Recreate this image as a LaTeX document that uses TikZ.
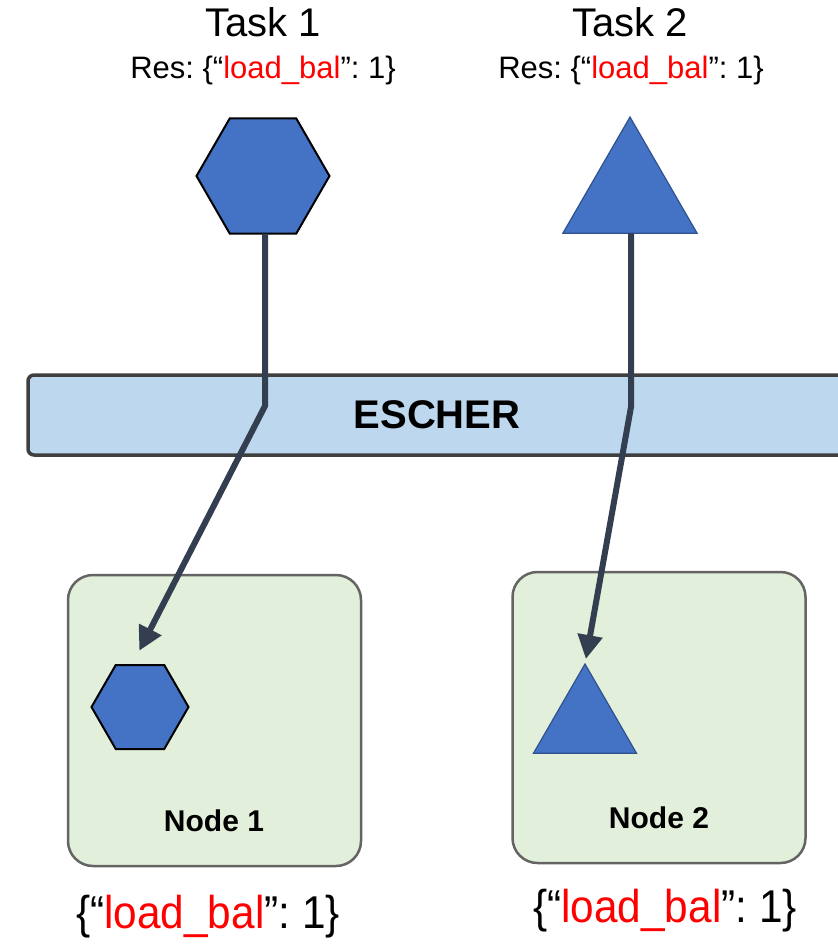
\documentclass[tikz,border=0pt]{standalone}
\usepackage{fontspec}
\setmainfont{Liberation Sans}
\usepackage{xcolor}
\usepackage{graphicx}
\usetikzlibrary{arrows.meta, positioning, shapes.geometric, calc}

\definecolor{shapeblue}{HTML}{4472C4}
\definecolor{triedge}{HTML}{2F528F}
\definecolor{flowslate}{HTML}{333F50}
\definecolor{barfill}{HTML}{BDD7EE}
\definecolor{barline}{HTML}{3F3F3F}
\definecolor{boxfill}{HTML}{E2EFDA}
\definecolor{boxline}{HTML}{646464}
\definecolor{resred}{HTML}{FF0000}

\frenchspacing
\newcommand{\resdict}{\{“\textcolor{resred}{load\_bal}”: 1\}}

\begin{document}
\begin{tikzpicture}[x=1pt, y=-1pt,
    hexa/.style={regular polygon, regular polygon sides=6, fill=shapeblue, draw=black, line width=2pt, inner sep=0pt, outer sep=0pt},
    tri/.style={regular polygon, regular polygon sides=3, fill=shapeblue, draw=triedge, line width=1.2pt, inner sep=0pt, outer sep=0pt},
    machine/.style={draw=boxline, fill=boxfill, line width=2.5pt, rounded corners=25pt, minimum width=293pt, minimum height=291pt},
    flow/.style={draw=flowslate, line width=6pt, -{Triangle[length=24pt, width=24pt]}}]
    \clip (0,0) rectangle (838,946);

    % Task titles and requests
    \node[font=\fontsize{40}{44}\selectfont] (titleone) at (263,22) {Task 1};
    \node[font=\fontsize{31}{36}\selectfont] (resone) at (263,70) {Res: \resdict};
    \node[font=\fontsize{40}{44}\selectfont] (titletwo) at (630,22) {Task 2};
    \node[font=\fontsize{31}{36}\selectfont] (restwo) at (631,70) {Res: \resdict};

    % Tasks
    \node[hexa, minimum size=133pt] (taskone) at (263,176) {};
    \node[tri, minimum size=155pt, anchor=north] (tasktwo) at (630,117) {};

    % Scheduler bar
    \node[draw=barline, fill=barfill, line width=3.5pt, rounded corners=6pt, minimum width=818pt, minimum height=80pt,
          font=\fontsize{40}{44}\selectfont\bfseries] (escher) at (437,415) {ESCHER};

    % Machines
    \node[machine] (nodeone) at (214.5,720.5) {};
    \node[machine] (nodetwo) at (659,717.5) {};
    \node[font=\fontsize{30}{34}\selectfont\bfseries] (nodeonetext) at (214,821) {Node 1};
    \node[font=\fontsize{30}{34}\selectfont\bfseries] (nodetwotext) at (659,818) {Node 2};

    % Placed tasks
    \node[hexa, minimum size=97pt] (podone) at (140,707) {};
    \node[tri, minimum size=119pt, anchor=north] (podtwo) at (585,664) {};

    % Requests left on the machines
    \node[font=\fontsize{46}{50}\selectfont] (freeone) at (208,917) {\scalebox{0.92}[1]{\resdict}};
    \node[font=\fontsize{46}{50}\selectfont] (freetwo) at (665,911) {\scalebox{0.92}[1]{\resdict}};

    % Scheduling paths
    \coordinate (bendone) at (265,406);
    \coordinate (bendtwo) at (631,407);
    \draw[flow, line cap=butt, shorten >=16pt] (bendone |- taskone.south) -- (bendone) -- ($(podone.north)+(-8,0)$);
    \draw[flow, line cap=butt, shorten >=5pt] (bendtwo |- tasktwo.south) -- (bendtwo) -- (podtwo.north);
\end{tikzpicture}
\end{document}
